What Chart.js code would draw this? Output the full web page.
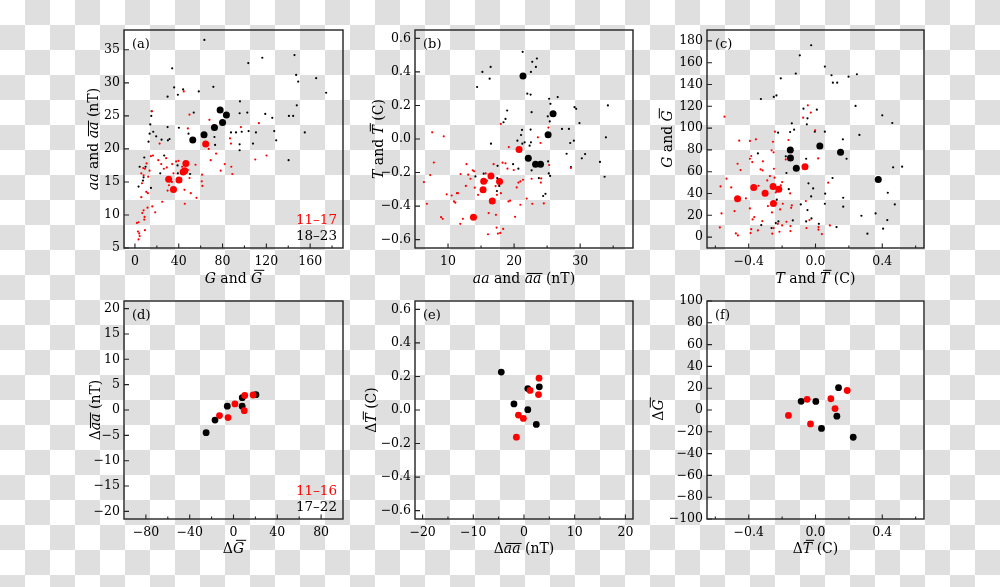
<!DOCTYPE html>
<html>
<head>
<meta charset="utf-8">
<script src="https://cdn.jsdelivr.net/npm/chart.js@4.4.1/dist/chart.umd.min.js"></script>
<style>
html, body { margin: 0; padding: 0; }
body {
  width: 1000px; height: 587px; position: relative; overflow: hidden;
  background: repeating-conic-gradient(#dfdfdf 0 25%, #ffffff 0 50%) 0 0 / 50px 50px;
}
.panel { position: absolute; }
</style>
</head>
<body>
<div class="panel" id="pa"><canvas id="ca"></canvas></div>
<div class="panel" id="pb"><canvas id="cb"></canvas></div>
<div class="panel" id="pc"><canvas id="cc"></canvas></div>
<div class="panel" id="pd"><canvas id="cd"></canvas></div>
<div class="panel" id="pe"><canvas id="ce"></canvas></div>
<div class="panel" id="pf"><canvas id="cf"></canvas></div>
<script>
// ---- cycle means (large dots): one entry per cycle, 11-17 red, 18-23 black
const cycRedG  = [64.6, 46.5, 45.4, 44.0, 30.8, 40.2, 35.2];
const cycRedAA = [20.75, 17.8, 16.7, 16.5, 15.4, 15.3, 13.85];
const cycRedT  = [-0.063, -0.254, -0.37, -0.22, -0.252, -0.302, -0.467];
const cycBlackG  = [52.8, 63.1, 72.6, 77.8, 80.0, 83.5];
const cycBlackAA = [21.35, 22.15, 23.25, 25.9, 24.0, 25.15];
const cycBlackT  = [0.376, -0.115, -0.15, 0.15, -0.151, 0.026];

// ---- cycle-to-cycle differences (panels d-f), 11-16 red, 17-22 black
const dRedG   = [-12.8, -5.0, 1.3, 9.8, 10.3, 17.9];
const dRedAA  = [-1.1, -1.5, 1.2, -0.13, 2.86, 2.96];
const dRedT   = [-0.03, -0.162, 0.117, -0.05, 0.092, 0.19];
const dBlackG  = [-25, -16.9, -5.7, 7.9, 8.0, 20.5];
const dBlackAA = [-4.48, -1.98, 0.75, 0.75, 2.43, 3.02];
const dBlackT  = [0.226, 0.036, 0.128, 0.002, -0.086, 0.138];

// ---- yearly values, panel (a): [G, aa]
const aRedYears = [[15.5,25.7],[44.6,28.7],[49.8,25.2],[48.3,23.1],[68.0,24.4],[22.5,20.8],[14.6,18.9],[16.4,19.0],
  [10.6,17.8],[7.6,17.1],[9.1,17.0],[5.8,16.3],[7.9,16.0],[13.4,16.7],[12.1,15.8],[6.4,14.8],[10.3,13.5],[11.8,13.3],
  [5.8,12.7],[11.5,11.1],[15.8,11.3],[7.9,10.7],[6.7,10.3],[18.5,10.4],[8.8,9.7],[8.5,9.3],[1.8,8.8],[3.3,8.9],
  [9.1,7.7],[2.7,7.5],[3.9,7.2],[4.3,6.8],[3.3,6.3],[21.3,18.3],[24.0,17.7],[26.4,17.0],[29.1,17.2],[28.5,18.6],
  [34.0,17.7],[35.2,16.3],[37.6,18.1],[39.8,18.2],[43.1,17.3],[31.0,14.5],[33.7,15.0],[29.8,13.7],[24.9,12.0],
  [45.2,13.8],[45.5,11.7],[51.0,13.3],[56.2,12.6],[55.3,17.6],[48.3,16.8],[49.8,15.6],[61.3,16.1],[61.0,15.1],
  [61.6,14.4],[67.4,20.0],[69.2,18.3],[74.1,19.3],[78.3,16.7],[82.0,17.7],[88.0,17.3],[88.9,16.2],[86.8,21.6],
  [87.7,20.8],[96.8,23.3],[109.9,18.4],[113.2,23.9],[120.2,19.0]];
const aBlackYears = [[63.4,36.5],[34.0,32.2],[103.5,33.0],[116.3,33.8],[145.7,34.2],[147.2,31.2],[149.1,30.2],
  [165.5,30.7],[174.6,28.5],[35.8,29.3],[44.0,29.0],[29.8,27.9],[39.2,28.2],[58.3,28.7],[71.6,29.4],[95.9,27.2],
  [53.7,25.5],[102.6,25.5],[95.6,25.4],[119.0,25.3],[125.4,24.7],[144.5,25.0],[140.6,25.0],[147.8,26.6],[14.0,23.7],
  [14.9,25.0],[15.2,25.7],[13.4,22.3],[16.7,22.6],[19.4,21.9],[12.4,21.1],[29.8,23.3],[30.1,21.3],[31.6,21.5],
  [40.1,23.2],[24.3,21.4],[48.9,22.3],[87.7,22.5],[92.3,22.5],[97.5,22.6],[103.8,22.7],[110.5,22.5],[127.2,22.7],
  [129.0,21.3],[155.1,22.5],[107.8,20.8],[95.6,20.7],[95.6,19.8],[73.2,20.6],[72.6,21.8],[8.5,18.7],[4.3,17.3],
  [9.7,17.3],[7.9,15.7],[7.3,15.2],[3.3,14.3],[14.6,14.1],[23.1,16.3],[26.7,19.0],[38.9,17.5],[39.2,16.3],
  [50.4,16.2],[140.3,18.3]];

// ---- yearly values, panel (b): [aa, T]
const bRedYears = [[7.6,0.04],[9.35,0.016],[18.0,0.09],[25.2,0.068],[23.6,0.01],[24.0,-0.024],[19.2,-0.048],
  [7.85,-0.14],[7.3,-0.215],[6.35,-0.257],[6.8,-0.386],[8.95,-0.466],[9.2,-0.476],[9.8,-0.33],[10.55,-0.337],
  [10.9,-0.372],[11.1,-0.38],[11.35,-0.323],[11.5,-0.323],[11.9,-0.209],[12.8,-0.15],[13.05,-0.213],[12.7,-0.28],
  [13.4,-0.237],[13.75,-0.187],[13.95,-0.193],[14.05,-0.29],[14.55,-0.333],[12.25,-0.476],[11.85,-0.506],
  [15.7,-0.205],[15.9,-0.249],[16.15,-0.442],[16.05,-0.568],[16.9,-0.15],[17.2,-0.281],[17.4,-0.333],
  [17.25,-0.452],[17.35,-0.528],[17.55,-0.564],[17.9,-0.56],[18.35,-0.536],[18.25,-0.141],[18.7,-0.145],
  [18.0,-0.323],[19.15,-0.372],[19.4,-0.368],[19.0,-0.177],[19.95,-0.185],[20.15,-0.464],[20.4,-0.289],
  [20.65,-0.26],[20.95,-0.392],[20.95,-0.253],[21.35,-0.243],[21.9,-0.355],[22.65,-0.237],[22.75,-0.386],
  [24.1,-0.235],[24.5,-0.384],[24.05,-0.26],[25.3,-0.155],[28.6,-0.173]];
const bBlackYears = [[21.3,0.52],[22.75,0.46],[23.45,0.48],[23.3,0.43],[22.55,0.40],[15.2,0.40],[16.45,0.43],
  [16.3,0.36],[14.4,0.31],[22.0,0.27],[22.5,0.265],[25.3,0.24],[26.6,0.25],[25.5,0.21],[29.15,0.19],[29.4,0.18],
  [34.2,0.20],[18.95,0.17],[18.7,0.12],[18.4,0.10],[25.1,0.135],[22.65,0.16],[25.4,0.105],[29.9,0.095],
  [27.25,0.06],[28.3,0.06],[21.2,0.054],[22.5,0.056],[21.05,0.024],[20.5,-0.01],[21.25,-0.028],[21.6,-0.02],
  [22.55,-0.02],[22.35,-0.04],[16.5,-0.028],[28.5,-0.024],[29.05,-0.01],[33.9,0.01],[27.95,-0.088],[30.25,-0.115],
  [30.75,-0.09],[33.0,-0.137],[33.7,-0.225],[25.15,-0.134],[28.6,-0.167],[19.85,-0.15],[20.65,-0.177],[17.5,-0.16],
  [17.45,-0.233],[17.75,-0.28],[17.4,-0.31],[23.75,-0.233],[25.25,-0.205],[25.45,-0.22],[22.65,-0.187],
  [24.4,-0.34],[24.75,-0.327],[15.4,-0.207],[14.15,-0.223]];

// ---- yearly values, panel (c): [T, G]
const cRedYears = [[-0.545,110.5],[-0.046,120.9],[-0.028,114.2],[-0.074,109.6],[-0.243,96.7],[-0.255,87.5],
  [-0.263,79.6],[-0.251,77.8],[-0.457,88.5],[-0.393,88.2],[-0.357,89.7],[-0.162,89.1],[-0.002,98],[0.016,72.2],
  [-0.467,67.3],[-0.449,61.5],[-0.385,74.4],[-0.393,71.9],[-0.379,68.8],[-0.315,69.5],[-0.329,62.1],[-0.317,61.2],
  [-0.249,62.7],[-0.178,71.3],[-0.533,53.6],[-0.505,45.6],[-0.569,46.5],[-0.417,35.5],[-0.341,47.1],[-0.289,52],
  [-0.273,56],[-0.245,54.5],[-0.238,41],[-0.2,50.5],[-0.208,47.4],[-0.152,40.1],[0.076,49.9],[-0.058,33.1],
  [-0.196,30.6],[-0.142,29.1],[-0.146,26.9],[-0.285,28.5],[-0.212,25.4],[-0.393,26.3],[-0.485,23.9],[-0.563,21.7],
  [-0.261,22.6],[-0.367,18.4],[-0.377,16.2],[-0.319,14.7],[-0.174,14.1],[-0.15,10.1],[-0.15,5.5],[-0.2,10.7],
  [-0.036,15.6],[-0.054,8.3],[0.018,9.2],[0.018,6.8],[0.086,10.7],[0.038,2.8],[-0.573,8.9],[-0.477,3.4],
  [-0.465,1.5],[-0.389,3.7],[-0.385,7.3],[-0.345,6.1],[-0.259,3.1],[-0.251,8.3],[-0.216,4.9],[-0.226,12.2]];
const cBlackYears = [[-0.026,176],[-0.094,166.8],[-0.118,150],[-0.208,145.7],[0.056,156.4],[0.096,148.5],
  [0.104,141.7],[0.13,141.7],[0.198,147.2],[0.248,149.4],[-0.234,130],[-0.25,128.6],[-0.327,126.7],[-0.072,117.8],
  [0.008,116.9],[0.24,120.3],[0.40,111.7],[-0.048,109],[-0.052,103.5],[-0.142,104.4],[-0.128,98.6],[-0.152,96.4],
  [-0.224,95.8],[-0.004,96.7],[0.056,96.7],[0.46,104.7],[0.263,93.7],[0.164,89.7],[-0.345,76.8],[-0.178,74.1],
  [-0.056,71.9],[0.186,71.9],[0.465,64],[0.519,64.6],[-0.174,58.8],[0.102,54.2],[-0.042,49.3],[-0.014,44.7],
  [-0.16,44],[0.058,39.8],[0.433,40.7],[-0.026,37.3],[0.166,36.1],[-0.232,34.3],[0.475,30],[-0.088,30],
  [0.056,30.6],[-0.048,24.8],[0.166,27.9],[0.275,19.6],[0.36,21.7],[-0.024,17.1],[-0.136,15.3],[-0.222,14.4],
  [-0.238,12.9],[-0.056,14.4],[0.43,15.6],[0.02,12.2],[0.126,9.2],[0.405,7.7],[0.311,3.1],[-0.325,11],[-0.263,8.3]];

// ---- axis ticks
const aXTicks = [0, 40, 80, 120, 160], aXMinor = [20, 60, 100, 140, 180];
const aYTicks = [5, 10, 15, 20, 25, 30, 35];
const bXTicks = [10, 20, 30], bXMinor = [15, 25, 35];
const tYTicks = [-0.6, -0.4, -0.2, 0, 0.2, 0.4, 0.6];
const tXTicks = [-0.4, 0, 0.4], tXMinor = [-0.6, -0.2, 0.2, 0.6];
const cYTicks = [0, 20, 40, 60, 80, 100, 120, 140, 160, 180];
const dXTicks = [-80, -40, 0, 40, 80], dXMinor = [-60, -20, 20, 60];
const dYTicks = [-20, -15, -10, -5, 0, 5, 10, 15, 20];
const eXTicks = [-20, -10, 0, 10, 20], eXMinor = [-15, -5, 5, 15];
const fYTicks = [-100, -80, -60, -40, -20, 0, 20, 40, 60, 80, 100];

const FONT = '"DejaVu Serif", "Liberation Serif", serif';
const RED = '#ff0000', BLACK = '#000000';

const zip = (xs, ys) => xs.map((v, i) => ({x: v, y: ys[i]}));
const pts = arr => arr.map(p => ({x: p[0], y: p[1]}));
const fmt = (v, dec) => v.toFixed(dec).replace('-', '\u2212');

// rich axis title: segments {t, it (italic), ov ('cap'|'low' overline)}
function drawRich(ctx, segs, cx, cy, rotate) {
  const size = 14;
  ctx.save();
  ctx.translate(cx, cy);
  if (rotate) ctx.rotate(-Math.PI / 2);
  const fonts = segs.map(s => (s.it ? 'italic ' : '') + size + 'px ' + FONT);
  const widths = segs.map((s, i) => { ctx.font = fonts[i]; return ctx.measureText(s.t).width; });
  let x = -widths.reduce((a, b) => a + b, 0) / 2;
  const base = size * 0.36;
  ctx.textAlign = 'left';
  ctx.textBaseline = 'alphabetic';
  ctx.fillStyle = '#000';
  ctx.strokeStyle = '#000';
  ctx.lineWidth = 1;
  segs.forEach((s, i) => {
    ctx.font = fonts[i];
    ctx.fillText(s.t, x, base);
    if (s.ov) {
      const oy = base - (s.ov === 'cap' ? size * 0.73 + 2.5 : size * 0.54 + 2);
      const sh = s.it ? (s.ov === 'cap' ? 2.5 : 1.5) : 0;
      ctx.beginPath();
      ctx.moveTo(x + sh + 0.5, oy);
      ctx.lineTo(x + widths[i] + sh - 0.5, oy);
      ctx.stroke();
    }
    x += widths[i];
  });
  ctx.restore();
}

const framePlugin = {
  id: 'frame',
  afterDraw(chart, args, o) {
    const ctx = chart.ctx, a = chart.chartArea;
    const sx = chart.scales.x, sy = chart.scales.y;
    ctx.save();
    ctx.strokeStyle = '#222';
    ctx.lineWidth = 1.4;
    ctx.strokeRect(a.left, a.top, a.right - a.left, a.bottom - a.top);
    ctx.lineWidth = 1.1;
    ctx.beginPath();
    o.xt.forEach(v => { const p = sx.getPixelForValue(v); ctx.moveTo(p, a.bottom); ctx.lineTo(p, a.bottom - 4.5); });
    o.xm.forEach(v => { const p = sx.getPixelForValue(v); ctx.moveTo(p, a.bottom); ctx.lineTo(p, a.bottom - 2.5); });
    o.yt.forEach(v => { const p = sy.getPixelForValue(v); ctx.moveTo(a.left, p); ctx.lineTo(a.left + 5, p); });
    ctx.stroke();

    ctx.fillStyle = '#000';
    ctx.textAlign = 'left';
    ctx.textBaseline = 'middle';
    ctx.font = '13px ' + FONT;
    ctx.fillText(o.label, a.left + 8, a.top + 15);

    if (o.legend) {
      ctx.textAlign = 'right';
      ctx.font = '13.5px ' + FONT;
      ctx.fillStyle = RED;
      ctx.fillText(o.legend[0], a.right - 6, a.bottom - 28);
      ctx.fillStyle = BLACK;
      ctx.fillText(o.legend[1], a.right - 6, a.bottom - 12);
    }
    drawRich(ctx, o.xTitle, (a.left + a.right) / 2, a.bottom + o.xdy, false);
    drawRich(ctx, o.yTitle, a.left + o.ydx, (a.top + a.bottom) / 2, true);
    ctx.restore();
  }
};

function axis(min, max, ticks, dec, isX) {
  return {
    type: 'linear', min: min, max: max,
    grid: {display: false, drawTicks: false},
    border: {display: false},
    afterBuildTicks: s => { s.ticks = ticks.map(v => ({value: v})); },
    afterFit: s => { if (isX) s.height = 45; else s.width = 60; },
    ticks: {
      autoSkip: false, maxRotation: 0, minRotation: 0,
      padding: isX ? 6 : 4,
      color: '#000',
      font: {family: FONT, size: 12.5},
      callback: v => fmt(v, dec)
    }
  };
}

const S = 1.1, L = 3.5, LB = 3.4;
const tAA = [{t: 'aa', it: true}, {t: ' and '}, {t: 'aa', it: true, ov: 'low'}, {t: ' (nT)'}];
const tG = [{t: 'G', it: true}, {t: ' and '}, {t: 'G', it: true, ov: 'cap'}];
const tT = [{t: 'T', it: true}, {t: ' and '}, {t: 'T', it: true, ov: 'cap'}, {t: ' (C)'}];
const tdG = [{t: '\u0394'}, {t: 'G', it: true, ov: 'cap'}];
const tdAA = [{t: '\u0394'}, {t: 'aa', it: true, ov: 'low'}, {t: ' (nT)'}];
const tdT = [{t: '\u0394'}, {t: 'T', it: true, ov: 'cap'}, {t: ' (C)'}];

const panels = [
  {id: 'a', box: [124, 30, 343, 248], x: [-10, 190, aXTicks, aXMinor, 0], y: [5, 38, aYTicks, 0],
   sets: [[pts(aRedYears), RED, S], [pts(aBlackYears), BLACK, S],
          [zip(cycRedG, cycRedAA), RED, L], [zip(cycBlackG, cycBlackAA), BLACK, L]],
   label: '(a)', xTitle: tG, yTitle: tAA, xdy: 30, ydx: -31, legend: ['11\u201317', '18\u201323']},
  {id: 'b', box: [415, 30, 633, 248], x: [5, 38, bXTicks, bXMinor, 0], y: [-0.65, 0.65, tYTicks, 1],
   sets: [[pts(bRedYears), RED, S], [pts(bBlackYears), BLACK, S],
          [zip(cycRedAA, cycRedT), RED, L], [zip(cycBlackAA, cycBlackT), BLACK, L]],
   label: '(b)', xTitle: tAA, yTitle: tT, xdy: 30, ydx: -37},
  {id: 'c', box: [707, 30, 924, 248], x: [-0.65, 0.65, tXTicks, tXMinor, 1], y: [-10, 190, cYTicks, 0],
   sets: [[pts(cRedYears), RED, S], [pts(cBlackYears), BLACK, S],
          [zip(cycRedT, cycRedG), RED, L], [zip(cycBlackT, cycBlackG), BLACK, L]],
   label: '(c)', xTitle: tT, yTitle: tG, xdy: 30, ydx: -40},
  {id: 'd', box: [124, 301, 343, 519], x: [-100, 100, dXTicks, dXMinor, 0], y: [-21.5, 21.5, dYTicks, 0],
   sets: [[zip(dRedG, dRedAA), RED, LB], [zip(dBlackG, dBlackAA), BLACK, LB]],
   label: '(d)', xTitle: tdG, yTitle: tdAA, xdy: 29, ydx: -29, legend: ['11\u201316', '17\u201322']},
  {id: 'e', box: [415, 301, 633, 519], x: [-21.5, 21.5, eXTicks, eXMinor, 0], y: [-0.65, 0.65, tYTicks, 1],
   sets: [[zip(dRedAA, dRedT), RED, LB], [zip(dBlackAA, dBlackT), BLACK, LB]],
   label: '(e)', xTitle: tdAA, yTitle: tdT, xdy: 29, ydx: -44},
  {id: 'f', box: [707, 301, 924, 519], x: [-0.65, 0.65, tXTicks, tXMinor, 1], y: [-100, 100, fYTicks, 0],
   sets: [[zip(dRedT, dRedG), RED, LB], [zip(dBlackT, dBlackG), BLACK, LB]],
   label: '(f)', xTitle: tdT, yTitle: tdG, xdy: 29, ydx: -49}
];

panels.forEach(p => {
  const [l, t, r, b] = p.box;
  const div = document.getElementById('p' + p.id);
  div.style.left = (l - 60) + 'px';
  div.style.top = (t - 12) + 'px';
  div.style.width = (r - l + 70) + 'px';
  div.style.height = (b - t + 12 + 45) + 'px';
  new Chart(document.getElementById('c' + p.id), {
    type: 'scatter',
    data: {
      datasets: p.sets.map(s => ({
        data: s[0], backgroundColor: s[1], borderWidth: 0,
        pointRadius: s[2], pointHoverRadius: s[2]
      }))
    },
    options: {
      responsive: true,
      maintainAspectRatio: false,
      animation: false,
      events: [],
      layout: {padding: {left: 0, top: 12, right: 10, bottom: 0}},
      plugins: {
        legend: {display: false},
        tooltip: {enabled: false},
        frame: {xt: p.x[2], xm: p.x[3], yt: p.y[2], label: p.label, legend: p.legend,
                xTitle: p.xTitle, yTitle: p.yTitle, xdy: p.xdy, ydx: p.ydx}
      },
      scales: {
        x: axis(p.x[0], p.x[1], p.x[2], p.x[4], true),
        y: axis(p.y[0], p.y[1], p.y[2], p.y[3], false)
      }
    },
    plugins: [framePlugin]
  });
});
</script>
</body>
</html>
